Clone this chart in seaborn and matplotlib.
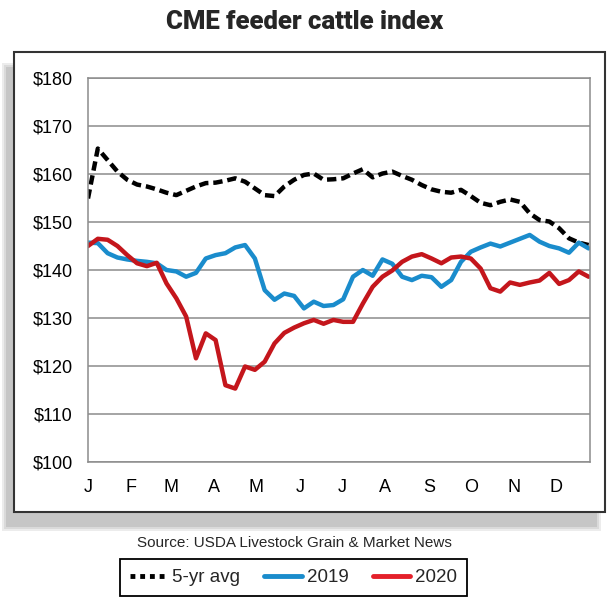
import matplotlib
matplotlib.use('Agg')
import matplotlib.pyplot as plt
import matplotlib.patches as patches
from matplotlib.lines import Line2D
import numpy as np
import pandas as pd
import seaborn as sns

# data (weekly)
# -----------------------------------------------------------------------------
avg_5yr = [154.9, 165.3, 162.9, 160.5, 158.8, 157.8, 157.4, 156.8, 156.1,
           155.6, 156.5, 157.4, 158.1, 158.2, 158.6, 159.1, 158.4, 157.0,
           155.6, 155.4, 157.4, 158.8, 159.8, 160.1, 158.8, 158.9, 159.1,
           160.1, 161.0, 159.3, 160.1, 160.5, 159.6, 158.8, 157.7, 156.8,
           156.3, 156.1, 156.7, 155.4, 154.0, 153.5, 154.2, 154.7, 154.2,
           151.8, 150.4, 150.1, 148.7, 146.6, 145.7, 145.2]
y2019 = [145.7, 145.6, 143.5, 142.6, 142.2, 141.9, 141.7, 141.4, 140.0,
         139.7, 138.6, 139.4, 142.4, 143.1, 143.5, 144.7, 145.2, 142.4,
         135.8, 133.8, 135.1, 134.6, 132.0, 133.4, 132.5, 132.7, 133.9,
         138.6, 140.0, 138.8, 142.2, 141.3, 138.6, 137.9, 138.8, 138.5,
         136.5, 137.9, 141.7, 143.8, 144.7, 145.5, 144.9, 145.7, 146.5,
         147.3, 145.9, 145.0, 144.5, 143.6, 145.7, 144.5]
y2020 = [145.0, 146.5, 146.3, 145.0, 143.1, 141.4, 140.8, 141.5, 137.2,
         134.1, 130.3, 121.6, 126.8, 125.4, 116.0, 115.3, 119.9, 119.2,
         120.9, 124.7, 126.9, 128.0, 128.9, 129.6, 128.8, 129.6, 129.2,
         129.2, 133.0, 136.5, 138.6, 139.9, 141.7, 142.8, 143.3, 142.4,
         141.4, 142.6, 142.8, 142.4, 140.3, 136.2, 135.5, 137.4, 136.9,
         137.4, 137.8, 139.4, 137.1, 137.9, 139.7, 138.6]
days = [7 * i for i in range(len(y2019))]

month_starts = [0, 31, 59, 90, 120, 151, 181, 212, 243, 273, 304, 334]
month_labels = ['J', 'F', 'M', 'A', 'M', 'J', 'J', 'A', 'S', 'O', 'N', 'D']
y_ticks = [100, 110, 120, 130, 140, 150, 160, 170, 180]

df = pd.DataFrame({'day': days,
                   '5-yr avg': avg_5yr,
                   '2019': y2019,
                   '2020': y2020,
                   })
# -----------------------------------------------------------------------------

# colours and styles
# -----------------------------------------------------------------------------
blue = '#1a8ccc'
red = '#c4161c'
red_legend = '#e4202a'
grid_grey = '#8c8c8c'

sns.set_style('white')
plt.rcParams['font.family'] = ['Liberation Sans', 'DejaVu Sans']
# -----------------------------------------------------------------------------

fig = plt.figure(figsize=(6.1, 6.06), dpi=100)

# frame with shadow
for i, a in enumerate([0.18, 0.22, 0.3]):
    d = (2 - i) * 2
    shadow = patches.Rectangle((6 / 610 - d / 610, 1 - 527 / 606 - d / 606),
                               (591 + 2 * d) / 610, (460 + 2 * d) / 606,
                               transform=fig.transFigure,
                               facecolor='#9a9a9a', edgecolor='none',
                               alpha=a, zorder=0)
    fig.patches.append(shadow)
frame = patches.Rectangle((14 / 610, 1 - 512 / 606), 591 / 610, 460 / 606,
                          transform=fig.transFigure, facecolor='white',
                          edgecolor='#333333', linewidth=1.5, zorder=1)
fig.patches.append(frame)

ax = fig.add_axes([88 / 610, 1 - 462 / 606, 502 / 610, 384 / 606])
ax.set_zorder(2)

sns.lineplot(data=df, x='day', y='5-yr avg', ax=ax, color='black',
             linewidth=3.2, linestyle=(0, (2.1, 1.1)))
sns.lineplot(data=df, x='day', y='2019', ax=ax, color=blue, linewidth=3.2)
sns.lineplot(data=df, x='day', y='2020', ax=ax, color=red, linewidth=3.2)

ax.set_xlim(0, 358)
ax.set_ylim(100, 180)
ax.set_yticks(y_ticks)
ax.set_yticklabels(['${}'.format(v) for v in y_ticks])
ax.set_xticks(month_starts)
ax.set_xticklabels(month_labels)
ax.set_xlabel('')
ax.set_ylabel('')
ax.grid(axis='y', color=grid_grey, linewidth=1.1)
ax.set_axisbelow(True)
for s in ax.spines.values():
    s.set_color(grid_grey)
    s.set_linewidth(1.1)
ax.tick_params(axis='y', length=0, pad=11, labelsize=13, colors='black')
ax.tick_params(axis='x', length=4, width=1.1, color=grid_grey, pad=8,
               labelsize=13, labelcolor='black', direction='out')

# title and source
fig.text(0.5, 1 - 29 / 606, 'CME feeder cattle index',
         ha='center', va='baseline', fontsize=18.5, fontweight='black',
         family=['Roboto', 'DejaVu Sans'])
fig.text(294 / 610, 1 - 543 / 606,
         'Source: USDA Livestock Grain & Market News',
         ha='center', va='center', fontsize=11)

# legend
handles = [Line2D([0], [0], color='black', lw=3.5,
                  linestyle=(0, (1.0, 1.0))),
           Line2D([0], [0], color=blue, lw=3.5),
           Line2D([0], [0], color=red_legend, lw=3.5),
           ]
leg = fig.legend(handles, ['5-yr avg', '2019', '2020'],
                 loc='center', bbox_to_anchor=(0.481, 1 - 577.5 / 606),
                 ncol=3, frameon=True, fancybox=False, framealpha=1,
                 edgecolor='black', handlelength=2.0, handletextpad=0.25,
                 columnspacing=1.3, borderpad=0.55,
                 prop={'family': ['Liberation Sans Narrow', 'Liberation Sans'],
                       'size': 13.5})
leg.get_frame().set_linewidth(1.3)

plt.savefig('out.png', dpi=100)
